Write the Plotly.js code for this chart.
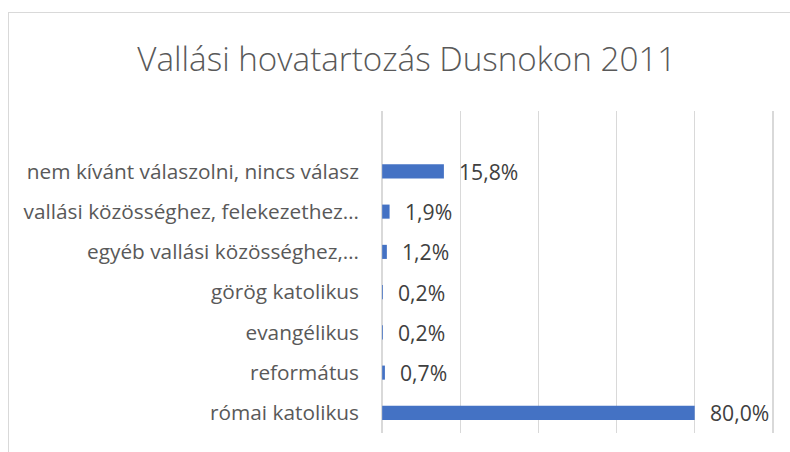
<!DOCTYPE html>
<html>
<head>
<meta charset="utf-8">
<script src="https://cdn.plot.ly/plotly-3.0.1.min.js"></script>
<style>
  html, body { margin: 0; padding: 0; background: #fff; overflow: hidden; }
  #wrap { position: relative; width: 790px; height: 452px; overflow: hidden; }
  #chart { width: 790px; height: 452px; }
  #frame { position: absolute; left: 8px; top: 12px; width: 1200px; height: 1000px;
           border: 1.5px solid #d9d9d9; pointer-events: none; box-sizing: border-box; }
</style>
</head>
<body>
<div id="wrap">
  <div id="chart"></div>
  <div id="frame"></div>
</div>
<script>
const categories = [
  "római katolikus",
  "református",
  "evangélikus",
  "görög katolikus",
  "egyéb vallási közösséghez,…",
  "vallási közösséghez, felekezethez…",
  "nem kívánt válaszolni, nincs válasz"
];
const values = [80.0, 0.7, 0.2, 0.2, 1.2, 1.9, 15.8];
const chartTitle = "Vallási hovatartozás Dusnokon 2011";

const fontFam = "'Open Sans', 'Noto Sans', sans-serif";
const labels = values.map(v => v.toFixed(1).replace('.', ',') + '%');

const trace = {
  type: 'bar',
  orientation: 'h',
  x: values,
  y: categories,
  width: 0.35,
  marker: { color: '#4472C4' },
  hoverinfo: 'none'
};

const annotations = values.map((v, i) => ({
  x: v, y: categories[i], xref: 'x', yref: 'y',
  text: labels[i], showarrow: false, xanchor: 'left', yanchor: 'middle',
  xshift: 13, yshift: 0,
  font: { family: fontFam, size: 21.2, color: '#404040' }
}));

const layout = {
  width: 790, height: 452,
  margin: { l: 381, r: 16, t: 111, b: 19, pad: 0 },
  paper_bgcolor: '#ffffff', plot_bgcolor: '#ffffff',
  showlegend: false,
  title: {
    text: chartTitle,
    x: 0.515, xanchor: 'center', y: 0.868, yanchor: 'middle',
    font: { family: fontFam, size: 33.2, color: '#595959', weight: 300 }
  },
  xaxis: {
    range: [-0.3, 100.3], dtick: 20, tick0: 0,
    showgrid: true, gridcolor: '#d9d9d9', gridwidth: 1.5,
    showticklabels: false, zeroline: false, showline: false, ticks: '',
    fixedrange: true
  },
  yaxis: {
    type: 'category',
    categoryorder: 'array', categoryarray: categories,
    range: [-0.5, 7.5],
    showgrid: false, zeroline: false, showline: false, ticks: '',
    ticklabelstandoff: 21,
    tickfont: { family: fontFam, size: 20.8, color: '#595959' },
    fixedrange: true
  },
  annotations: annotations
};

Plotly.newPlot('chart', [trace], layout, { displayModeBar: false, staticPlot: true });
</script>
</body>
</html>
